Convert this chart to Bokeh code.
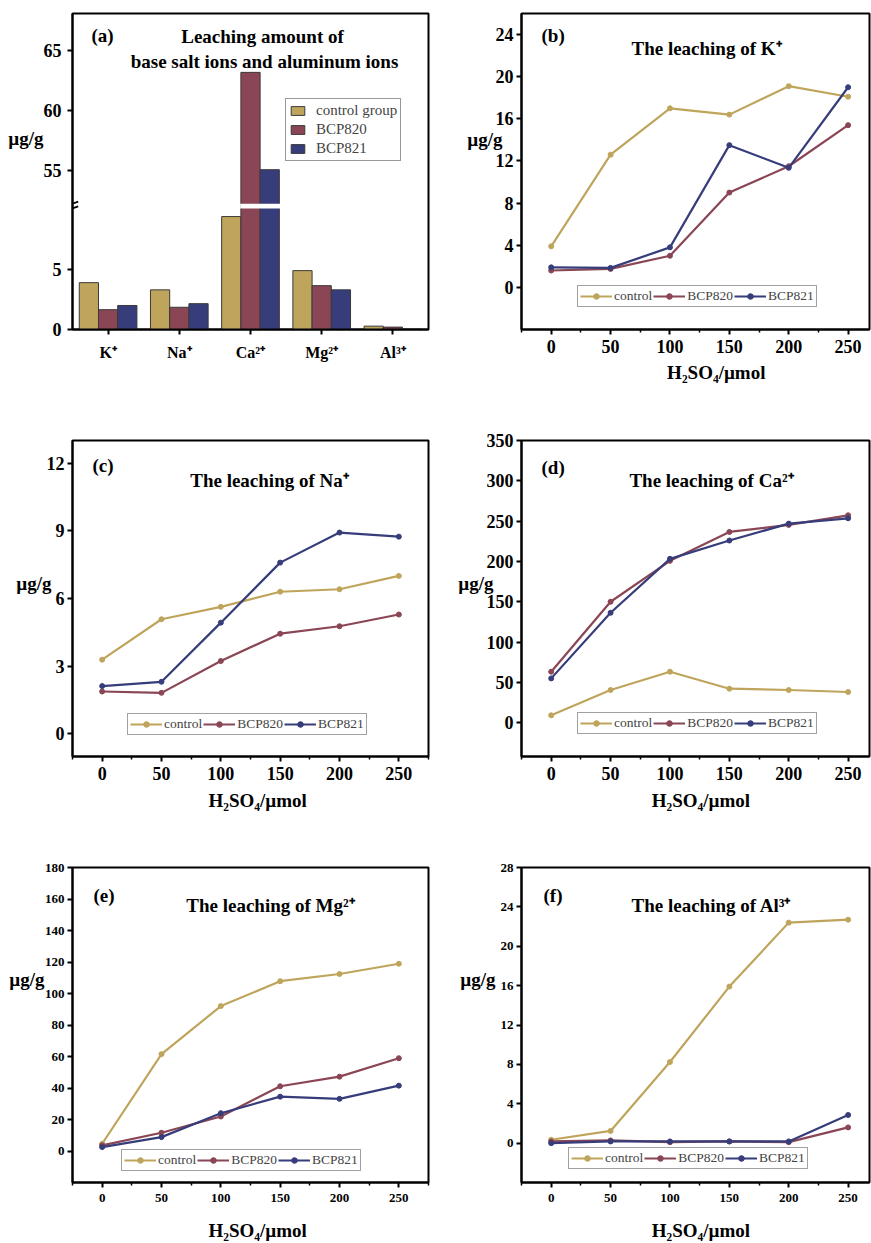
from bokeh.plotting import figure
from bokeh.models import FixedTicker, Label, Range1d, Arrow, LinearAxis
from bokeh.layouts import gridplot
from bokeh.embed import file_html
from bokeh.resources import INLINE

FONT = "Liberation Serif"
C_CTRL = "#BFA55C"
C_820 = "#8A4654"
C_821 = "#363D7A"

# ---------------- data ----------------
ions = ["K⁺", "Na⁺", "Ca²⁺", "Mg²⁺", "Al³⁺"]
bar_control = [3.9, 3.3, 9.4, 4.9, 0.28]
bar_bcp820 = [1.65, 1.85, 63.2, 3.65, 0.2]
bar_bcp821 = [2.0, 2.15, 55.1, 3.3, 0.03]
bar_yticks = [0, 5, 55, 60, 65]

h2so4 = [0, 50, 100, 150, 200, 250]

k_control = [3.9, 12.6, 17.0, 16.4, 19.1, 18.1]
k_bcp820 = [1.6, 1.75, 3.0, 9.0, 11.5, 15.4]
k_bcp821 = [1.9, 1.85, 3.8, 13.5, 11.35, 19.0]

na_control = [3.29, 5.08, 5.63, 6.3, 6.41, 7.0]
na_bcp820 = [1.88, 1.82, 3.23, 4.44, 4.77, 5.29]
na_bcp821 = [2.12, 2.31, 4.93, 7.59, 8.92, 8.74]

ca_control = [9.1, 40.5, 63.2, 42.1, 40.5, 38.0]
ca_bcp820 = [63.2, 150.0, 200.7, 236.6, 245.3, 257.2]
ca_bcp821 = [54.9, 136.3, 203.2, 225.9, 246.9, 253.5]

mg_control = [4.6, 61.5, 92.0, 107.8, 112.4, 118.9]
mg_bcp820 = [3.6, 11.6, 21.9, 41.1, 47.2, 58.9]
mg_bcp821 = [2.5, 8.8, 24.0, 34.5, 33.1, 41.5]

al_control = [0.34, 1.24, 8.24, 15.9, 22.4, 22.7]
al_bcp820 = [0.17, 0.27, 0.1, 0.17, 0.1, 1.6]
al_bcp821 = [0.0, 0.17, 0.17, 0.17, 0.17, 2.86]

series_names = ["control", "BCP820", "BCP821"]
series_colors = [C_CTRL, C_820, C_821]

Y_LABEL = "µg/g"
X_LABEL = "H₂SO₄/µmol"

# ---------------- broken axis for panel (a) ----------------
BREAK_LOW = 10.3
BREAK_SHIFT = 41.8


def disp(v):
    return v if v <= BREAK_LOW else v - BREAK_SHIFT


def style_axes(p, tick_px, x_standoff, y_standoff):
    for ax in (p.xaxis[0], p.yaxis[0]):
        ax.axis_line_width = 2
        ax.axis_line_color = "black"
        ax.major_tick_line_width = 2
        ax.major_tick_out = 5
        ax.major_tick_in = 0
        ax.major_label_text_font = FONT
        ax.major_label_text_font_style = "bold"
        ax.major_label_text_font_size = tick_px
        ax.major_label_text_color = "black"
    p.xaxis[0].major_label_standoff = x_standoff
    p.yaxis[0].major_label_standoff = y_standoff
    p.xaxis[0].minor_tick_line_width = 1.5
    p.xaxis[0].minor_tick_out = 3
    p.xaxis[0].minor_tick_in = 0
    p.yaxis[0].minor_tick_line_color = None
    p.xgrid.visible = False
    p.ygrid.visible = False
    p.outline_line_color = "black"
    p.outline_line_width = 2
    p.outline_line_alpha = 1
    p.background_fill_color = "white"
    p.border_fill_color = "white"


def label_axis(p, side, pos, text, standoff, size="19px"):
    """An extra axis that carries only one text label (used for axis titles)."""
    ax = LinearAxis(ticker=FixedTicker(ticks=[pos], minor_ticks=[]),
                    major_label_overrides={pos: text},
                    axis_line_color=None, major_tick_line_color=None,
                    minor_tick_line_color=None,
                    major_label_text_font=FONT, major_label_text_font_style="bold",
                    major_label_text_font_size=size, major_label_text_color="black")
    try:
        ax.major_label_standoff = standoff
    except Exception:
        ax.major_label_standoff = 0
    p.add_layout(ax, side)


def add_text(p, x, y, text, size, bold=True, align="left"):
    p.add_layout(Label(x=x, y=y, x_units="screen", y_units="screen", text=text,
                       text_font=FONT, text_font_size=size,
                       text_font_style="bold" if bold else "normal",
                       text_align=align, text_baseline="middle",
                       text_color="black"))


# ---------------- panel (a) ----------------
pa = figure(width=435, height=420, x_range=Range1d(0.5, 5.5), y_range=Range1d(0, 26.3),
            output_backend="svg", toolbar_location=None,
            min_border_left=72, min_border_right=7, min_border_top=13, min_border_bottom=91)
xs = list(range(1, len(ions) + 1))
bw = 0.27
for vals, col, name, off in [(bar_control, C_CTRL, "control group", -bw),
                             (bar_bcp820, C_820, "BCP820", 0.0),
                             (bar_bcp821, C_821, "BCP821", bw)]:
    pa.vbar(x=[x + off for x in xs], top=[disp(v) for v in vals], bottom=0, width=bw,
            fill_color=col, line_color="#3a3a3a", line_width=1, legend_label=name)

# white gap on the bars crossing the break
ca_x = xs[ions.index("Ca²⁺")]
pa.quad(left=[ca_x - 0.5 * bw - 0.01], right=[ca_x + 1.5 * bw + 0.01],
        bottom=[BREAK_LOW - 0.22], top=[BREAK_LOW + 0.17], fill_color="white", line_color=None)
# break marks on the left axis
for yb in (BREAK_LOW - 0.22, BREAK_LOW + 0.17):
    pa.add_layout(Arrow(x_start=0.5 - 0.08, y_start=yb - 0.17, x_end=0.5 + 0.08, y_end=yb + 0.17,
                        end=None, line_width=1.8, line_color="black"))

style_axes(pa, "18px", 9, 6)
pa.xaxis[0].major_label_text_font_size = "16px"
pa.xaxis[0].ticker = FixedTicker(ticks=xs, minor_ticks=[])
pa.xaxis[0].major_label_overrides = {x: lab for x, lab in zip(xs, ions)}
ytk = [disp(v) for v in bar_yticks]
pa.yaxis[0].ticker = FixedTicker(ticks=ytk, minor_ticks=[])
pa.yaxis[0].major_label_overrides = {d: str(v) for d, v in zip(ytk, bar_yticks)}
label_axis(pa, "left", 15.9, Y_LABEL, -9)

lg = pa.legend[0]
lg.location = (213, 168)
lg.orientation = "vertical"
lg.glyph_width = 17
lg.glyph_height = 11
lg.label_text_font = FONT
lg.label_text_font_size = "15px"
lg.label_standoff = 10
lg.spacing = 2
lg.padding = 3
lg.label_height = 14
lg.margin = 0
lg.border_line_color = "#333333"
lg.border_line_width = 1.5
lg.background_fill_alpha = 1

add_text(pa, 19, 294, "(a)", "19px")
add_text(pa, 190, 293, "Leaching amount of", "19px", align="center")
add_text(pa, 192, 268, "base salt ions and aluminum ions", "19px", align="center")


# ---------------- line panels ----------------
def line_panel(col, row, y_start, y_end, y_step, data, letter, title,
               letter_xy, title_xy, ylab, xlab, legend_loc, tick_px, x_std):
    if col == 0:
        w, mbl, mbr, xr = 435, 72, 7, Range1d(-25, 275)
    else:
        w, mbl, mbr, xr = 436, 86, 2, Range1d(-25, 268)
    if row == 0:
        h, mbt, mbb = 420, 13, 91
    elif row == 1:
        h, mbt, mbb = 410, 20, 74
    else:
        h, mbt, mbb = 413, 37, 59
    p = figure(width=w, height=h, x_range=xr, y_range=Range1d(y_start, y_end),
               output_backend="svg", toolbar_location=None,
               min_border_left=mbl, min_border_right=mbr,
               min_border_top=mbt, min_border_bottom=mbb)
    for vals, name, colr in zip(data, series_names, series_colors):
        p.line(h2so4, vals, line_color=colr, line_width=2.2, legend_label=name)
        p.scatter(h2so4, vals, size=5, fill_color=colr, line_color=colr, legend_label=name)
    style_axes(p, tick_px, x_std, 3)
    p.xaxis[0].ticker = FixedTicker(ticks=h2so4, minor_ticks=[-25, 25, 75, 125, 175, 225, 275])
    yt = list(range(0, int(y_end) + 1, y_step))
    p.yaxis[0].ticker = FixedTicker(ticks=yt, minor_ticks=[])

    label_axis(p, "left", ylab[0], Y_LABEL, ylab[1])
    label_axis(p, "below", xlab[0], X_LABEL, xlab[1])

    lg = p.legend[0]
    lg.location = legend_loc
    lg.orientation = "horizontal"
    lg.glyph_width = 32
    lg.glyph_height = 14
    lg.label_height = 14
    lg.label_text_font = FONT
    lg.label_text_font_size = "13.5px"
    lg.label_standoff = 2
    lg.spacing = 1
    lg.padding = 2
    lg.margin = 0
    lg.border_line_color = "#444444"
    lg.border_line_width = 1.5
    lg.background_fill_alpha = 1

    add_text(p, letter_xy[0], letter_xy[1], letter, "19px")
    add_text(p, title_xy[0], title_xy[1], title, "19px", align="center")
    return p


pb = line_panel(1, 0, -4, 26, 4, [k_control, k_bcp820, k_bcp821], "(b)", "The leaching of K⁺",
                (20, 294), (185, 281), (14.0, -16), (139, 0), (56, 22), "18px", 5)
pc = line_panel(0, 1, -1, 13, 3, [na_control, na_bcp820, na_bcp821], "(c)", "The leaching of Na⁺",
                (20, 291), (197, 276), (6.65, -14), (131, 1), (55, 21), "18px", 5)
pd = line_panel(1, 1, -42, 350, 50, [ca_control, ca_bcp820, ca_bcp821], "(d)", "The leaching of Ca²⁺",
                (20, 289), (190, 276), (172, -16), (126, 1), (56, 22), "18px", 5)
pe = line_panel(0, 2, -20, 180, 20, [mg_control, mg_bcp820, mg_bcp821], "(e)", "The leaching of Mg²⁺",
                (21, 287), (198, 277), (108.7, -9), (131, 9), (49, 11), "13px", 6)
pf = line_panel(1, 2, -4, 28, 4, [al_control, al_bcp820, al_bcp821], "(f)", "The leaching of Al³⁺",
                (22, 287), (190, 277), (16.6, -4), (126, 9), (47, 13), "13px", 6)

grid = gridplot([[pa, pb], [pc, pd], [pe, pf]], toolbar_location=None)

open("out.html", "w").write(file_html(grid, INLINE))
